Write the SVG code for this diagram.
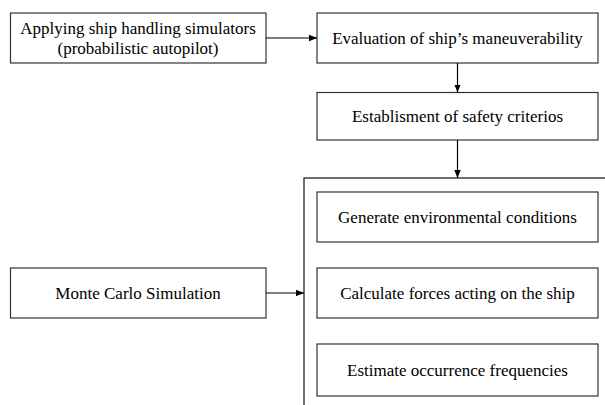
<svg xmlns="http://www.w3.org/2000/svg" width="605" height="405" viewBox="0 0 605 405">
<defs>
<style>
.box{fill:#fff;stroke:#333;stroke-width:1.2}
.cont{fill:none;stroke:#111;stroke-width:1.2}
.t{font-family:"Liberation Serif","Times New Roman",serif;font-size:17px;fill:#000;text-anchor:middle}
.c{fill:none;stroke:#000;stroke-width:1.2}
</style>
<marker id="ah" viewBox="0 0 10 10" refX="10" refY="5" markerWidth="8" markerHeight="8" markerUnits="userSpaceOnUse" orient="auto">
<path d="M0,1 L10,5 L0,9 Z" fill="#000"/>
</marker>
</defs>
<rect id="container" class="cont" x="304" y="178" width="400" height="300"/>
<g id="n1"><rect class="box" x="10.5" y="13" width="255.5" height="50"/>
<text class="t" x="138" y="34">Applying ship handling simulators</text>
<text class="t" x="138" y="54">(probabilistic autopilot)</text></g>
<g id="n2"><rect class="box" x="317" y="13" width="281" height="50"/>
<text class="t" x="457.5" y="44">Evaluation of ship’s maneuverability</text></g>
<g id="n3"><rect class="box" x="317" y="92.5" width="281" height="47.5"/>
<text class="t" x="457.5" y="122">Establisment of safety criterios</text></g>
<g id="n4"><rect class="box" x="317" y="192" width="281" height="50"/>
<text class="t" x="457.5" y="223">Generate environmental conditions</text></g>
<g id="n5"><rect class="box" x="317" y="268" width="281" height="50"/>
<text class="t" x="457.5" y="299">Calculate forces acting on the ship</text></g>
<g id="n6"><rect class="box" x="317" y="344" width="281" height="52"/>
<text class="t" x="457.5" y="376">Estimate occurrence frequencies</text></g>
<g id="n7"><rect class="box" x="10.5" y="268" width="255.5" height="50"/>
<text class="t" x="138" y="299">Monte Carlo Simulation</text></g>
<g id="connectors">
<line class="c" x1="266" y1="38" x2="317" y2="38" marker-end="url(#ah)"/>
<line class="c" x1="457.5" y1="63" x2="457.5" y2="92.5" marker-end="url(#ah)"/>
<line class="c" x1="457.5" y1="140" x2="457.5" y2="178" marker-end="url(#ah)"/>
<line class="c" x1="266" y1="293" x2="304" y2="293" marker-end="url(#ah)"/>
</g>
</svg>
